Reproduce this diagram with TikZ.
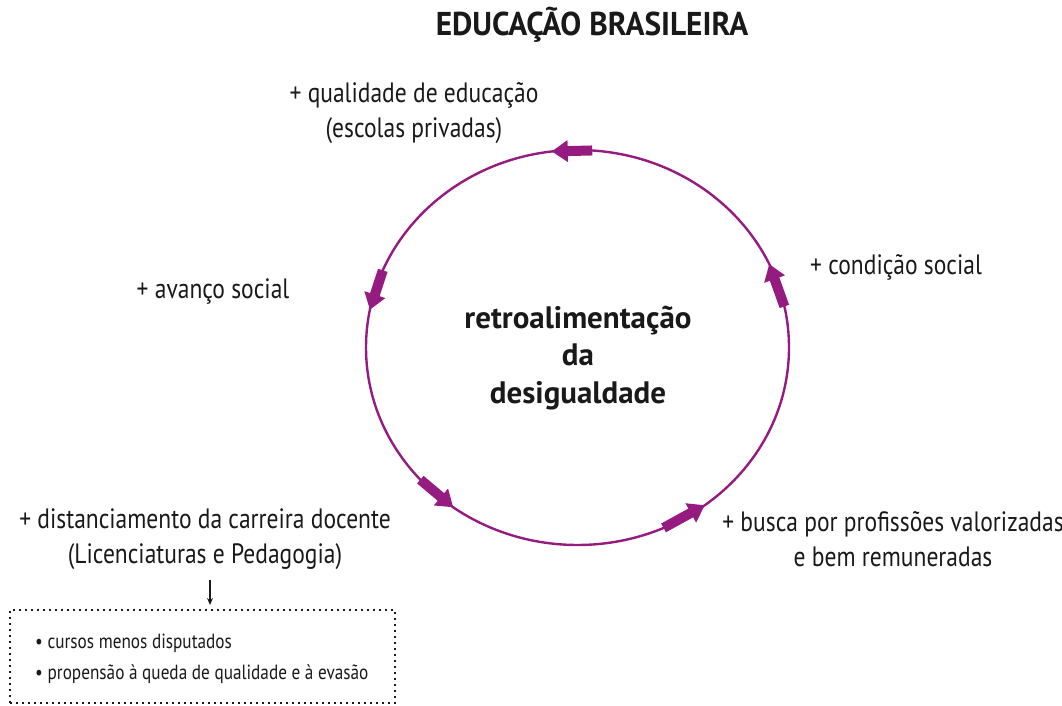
\documentclass[tikz,border=0pt]{standalone}
\usepackage{fontspec}
\setmainfont{PT Sans}
\newfontfamily\labfont[FakeStretch=0.84]{PT Sans}
\newfontfamily\titfont[FakeStretch=0.95]{PT Sans}
\usetikzlibrary{arrows.meta,calc}
\definecolor{cyc}{RGB}{149,27,129}
\begin{document}
\begin{tikzpicture}[x=1pt,y=1pt,
  lab/.style={font=\labfont\fontsize{28}{35}\selectfont, align=center, inner sep=0pt, text=black!90},
  boxtxt/.style={font=\labfont\fontsize{20.5}{31}\selectfont, align=left, inner sep=0pt, text=black!90},
  fat/.style={draw=cyc, line width=10pt, -{Triangle[length=16pt,width=21pt]}},
  ring/.style={draw=cyc, line width=2.4pt}]
\useasboundingbox (0,0) rectangle (1062,706);
\coordinate (c) at (577.5,358.5);
\draw[ring] (c) ellipse [x radius=211.5, y radius=197.5];
% arrow ends on the ring
\coordinate (t1) at ($(c)+(86:211.5 and 197.5)$);
\coordinate (h1) at ($(c)+(97:211.5 and 197.5)$);
\coordinate (t2) at ($(c)+(157:211.5 and 197.5)$);
\coordinate (h2) at ($(c)+(169:211.5 and 197.5)$);
\coordinate (t3) at ($(c)+(222:211.5 and 197.5)$);
\coordinate (h3) at ($(c)+(234:211.5 and 197.5)$);
\coordinate (t4) at ($(c)+(294:211.5 and 197.5)$);
\coordinate (h4) at ($(c)+(307:211.5 and 197.5)$);
\coordinate (t5) at ($(c)+(12:211.5 and 197.5)$);
\coordinate (h5) at ($(c)+(25:211.5 and 197.5)$);
\draw[fat] (t1) -- (h1);
\draw[fat] (t2) -- (h2);
\draw[fat] (t3) -- (h3);
\draw[fat] (t4) -- (h4);
\draw[fat] (t5) -- (h5);
% texts
\node[font=\titfont\bfseries\fontsize{33}{38}\selectfont, inner sep=0pt, text=black!90] (title) at (592,681) {EDUCAÇÃO BRASILEIRA};
\node[font=\bfseries\fontsize{31}{37.5}\selectfont, align=center, inner sep=0pt, text=black!90] (mid) at (578,348) {retroalimentação\\da\\desigualdade};
\node[lab] (qual) at (414,593) {+ qualidade de educação\\(escolas privadas)};
\node[lab] (avan) at (213,414) {+ avanço social};
\node[lab] (cond) at (896,439) {+ condição social};
\node[lab] (dist) at (205,166.5) {+ distanciamento da carreira docente\\(Licenciaturas e Pedagogia)};
\node[lab] (busca) at (893,166.5) {+ busca por profissões valorizadas\\e bem remuneradas};
\node[draw=black!90, line width=2pt, dash pattern=on 2pt off 4pt, minimum width=385, minimum height=93, inner sep=0pt] (box) at (202.5,49.5) {};
\node[boxtxt, anchor=west] (items) at (35,47) {\textbullet\ cursos menos disputados\\\textbullet\ propensão à queda de qualidade e à evasão};
\coordinate (arrtop) at (210,126);
\draw[black!90, line width=1.4pt, -{Stealth[length=7pt,width=6pt]}] (arrtop) -- ($(box.north)+(7.5,4)$);
\end{tikzpicture}
\end{document}
